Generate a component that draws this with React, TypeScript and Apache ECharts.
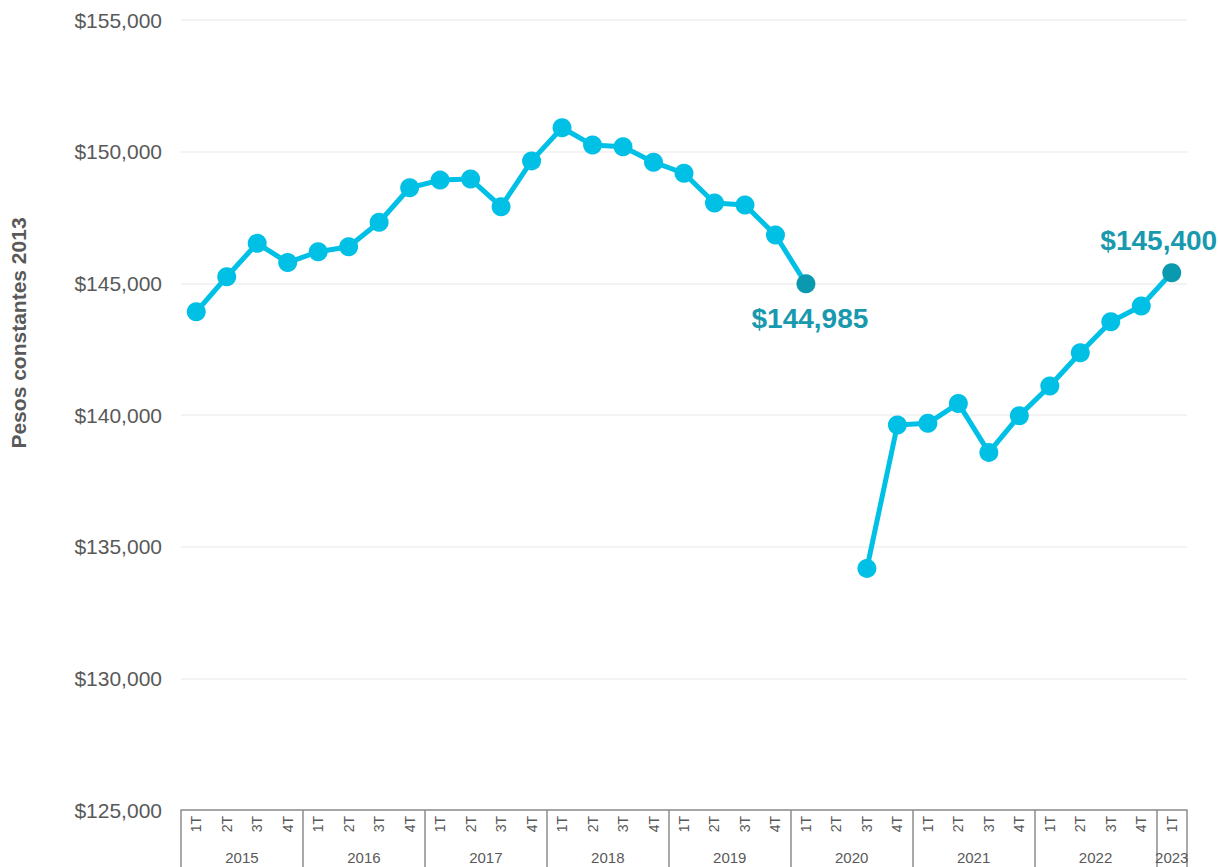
import React, { useEffect, useRef } from "react";
import * as echarts from "echarts";

const quarters = [
  "1T","2T","3T","4T","1T","2T","3T","4T","1T","2T","3T","4T",
  "1T","2T","3T","4T","1T","2T","3T","4T","1T","2T","3T","4T",
  "1T","2T","3T","4T","1T","2T","3T","4T","1T",
];
const years = ["2015","2016","2017","2018","2019","2020","2021","2022","2023"];
const quartersPerYear = [4, 4, 4, 4, 4, 4, 4, 4, 1];
const values: (number | null)[] = [
  143920, 145250, 146520, 145790,
  146200, 146390, 147320, 148630,
  148920, 148960, 147910, 149650,
  150910, 150250, 150190, 149600,
  149180, 148050, 147975, 146835,
  144985, null, 134175, 139620,
  139685, 140440, 138580, 139975,
  141100, 142365, 143540, 144140,
  145400,
];
const highlighted = [20, 32];
const yTicks = { min: 125000, max: 155000, interval: 5000 };

const LINE = "#00C0E6";
const DARK = "#0A99AF";
const GREY = "#595959";
const FONT = "Liberation Sans, Arial, sans-serif";

export default function App() {
  const ref = useRef<HTMLDivElement>(null);
  useEffect(() => {
    if (!ref.current) return;
    const chart = echarts.init(ref.current, null, { renderer: "svg" });

    const total = quarters.length * 2;
    const yearLabels: string[] = new Array(total + 1).fill("");
    const labelIdx = new Set<number>();
    const tickIdx = new Set<number>([0]);
    let pos = 0;
    years.forEach((y, i) => {
      const n = quartersPerYear[i] * 2;
      const c = pos + n / 2;
      yearLabels[c] = y;
      labelIdx.add(c);
      pos += n;
      tickIdx.add(pos);
    });

    const data = values.map((v, i) =>
      highlighted.includes(i)
        ? {
            value: v,
            itemStyle: { color: DARK },
            label: {
              show: true,
              position: i === 20 ? "bottom" : "top",
              distance: i === 20 ? 11 : 9,
              offset: i === 20 ? [4, 0] : [-13, 0],
              formatter: (p: any) => "$" + Number(p.value).toLocaleString("en-US"),
              color: "#1899AE",
              fontSize: 28,
              fontWeight: "bold",
              fontFamily: FONT,
            },
          }
        : v
    );

    chart.setOption({
      animation: false,
      grid: { left: 181, right: 31, top: 20, bottom: 57, containLabel: false },
      xAxis: [
        {
          type: "category",
          data: quarters,
          boundaryGap: true,
          axisLine: { show: true, lineStyle: { color: "#8c8c8c", width: 1.5 } },
          axisTick: { show: false },
          axisLabel: {
            interval: 0,
            rotate: 90,
            color: GREY,
            fontSize: 14,
            margin: 6,
            fontFamily: FONT,
          },
          splitLine: { show: false },
        },
        {
          type: "category",
          data: yearLabels,
          boundaryGap: false,
          position: "bottom",
          axisLine: { show: false },
          axisTick: {
            show: true,
            interval: (idx: number) => tickIdx.has(idx),
            length: 60,
            lineStyle: { color: "#8c8c8c", width: 1.5 },
          },
          axisLabel: {
            interval: (idx: number) => labelIdx.has(idx),
            color: GREY,
            fontSize: 15,
            margin: 40,
            fontFamily: FONT,
          },
          splitLine: { show: false },
        },
      ],
      yAxis: {
        type: "value",
        min: yTicks.min,
        max: yTicks.max,
        interval: yTicks.interval,
        axisLine: { show: false },
        axisTick: { show: false },
        axisLabel: {
          color: GREY,
          fontSize: 21,
          margin: 19,
          fontFamily: FONT,
          formatter: (v: number) => "$" + v.toLocaleString("en-US"),
        },
        splitLine: { lineStyle: { color: "#efefef", width: 1.5 } },
      },
      graphic: [
        {
          type: "text",
          x: 18,
          y: 333,
          rotation: Math.PI / 2,
          style: {
            text: "Pesos constantes 2013",
            align: "center",
            verticalAlign: "middle",
            fill: GREY,
            fontSize: 21,
            fontWeight: "bold",
            fontFamily: FONT,
          },
        },
      ],
      series: [
        {
          type: "line",
          xAxisIndex: 0,
          data,
          connectNulls: false,
          symbol: "circle",
          symbolSize: 19,
          lineStyle: { color: LINE, width: 5 },
          itemStyle: { color: LINE },
          emphasis: { disabled: true },
          z: 3,
        },
      ],
    });
    return () => chart.dispose();
  }, []);
  return (
    <div
      ref={ref}
      style={{ position: "absolute", left: 0, top: 0, width: 1218, height: 867 }}
    />
  );
}
